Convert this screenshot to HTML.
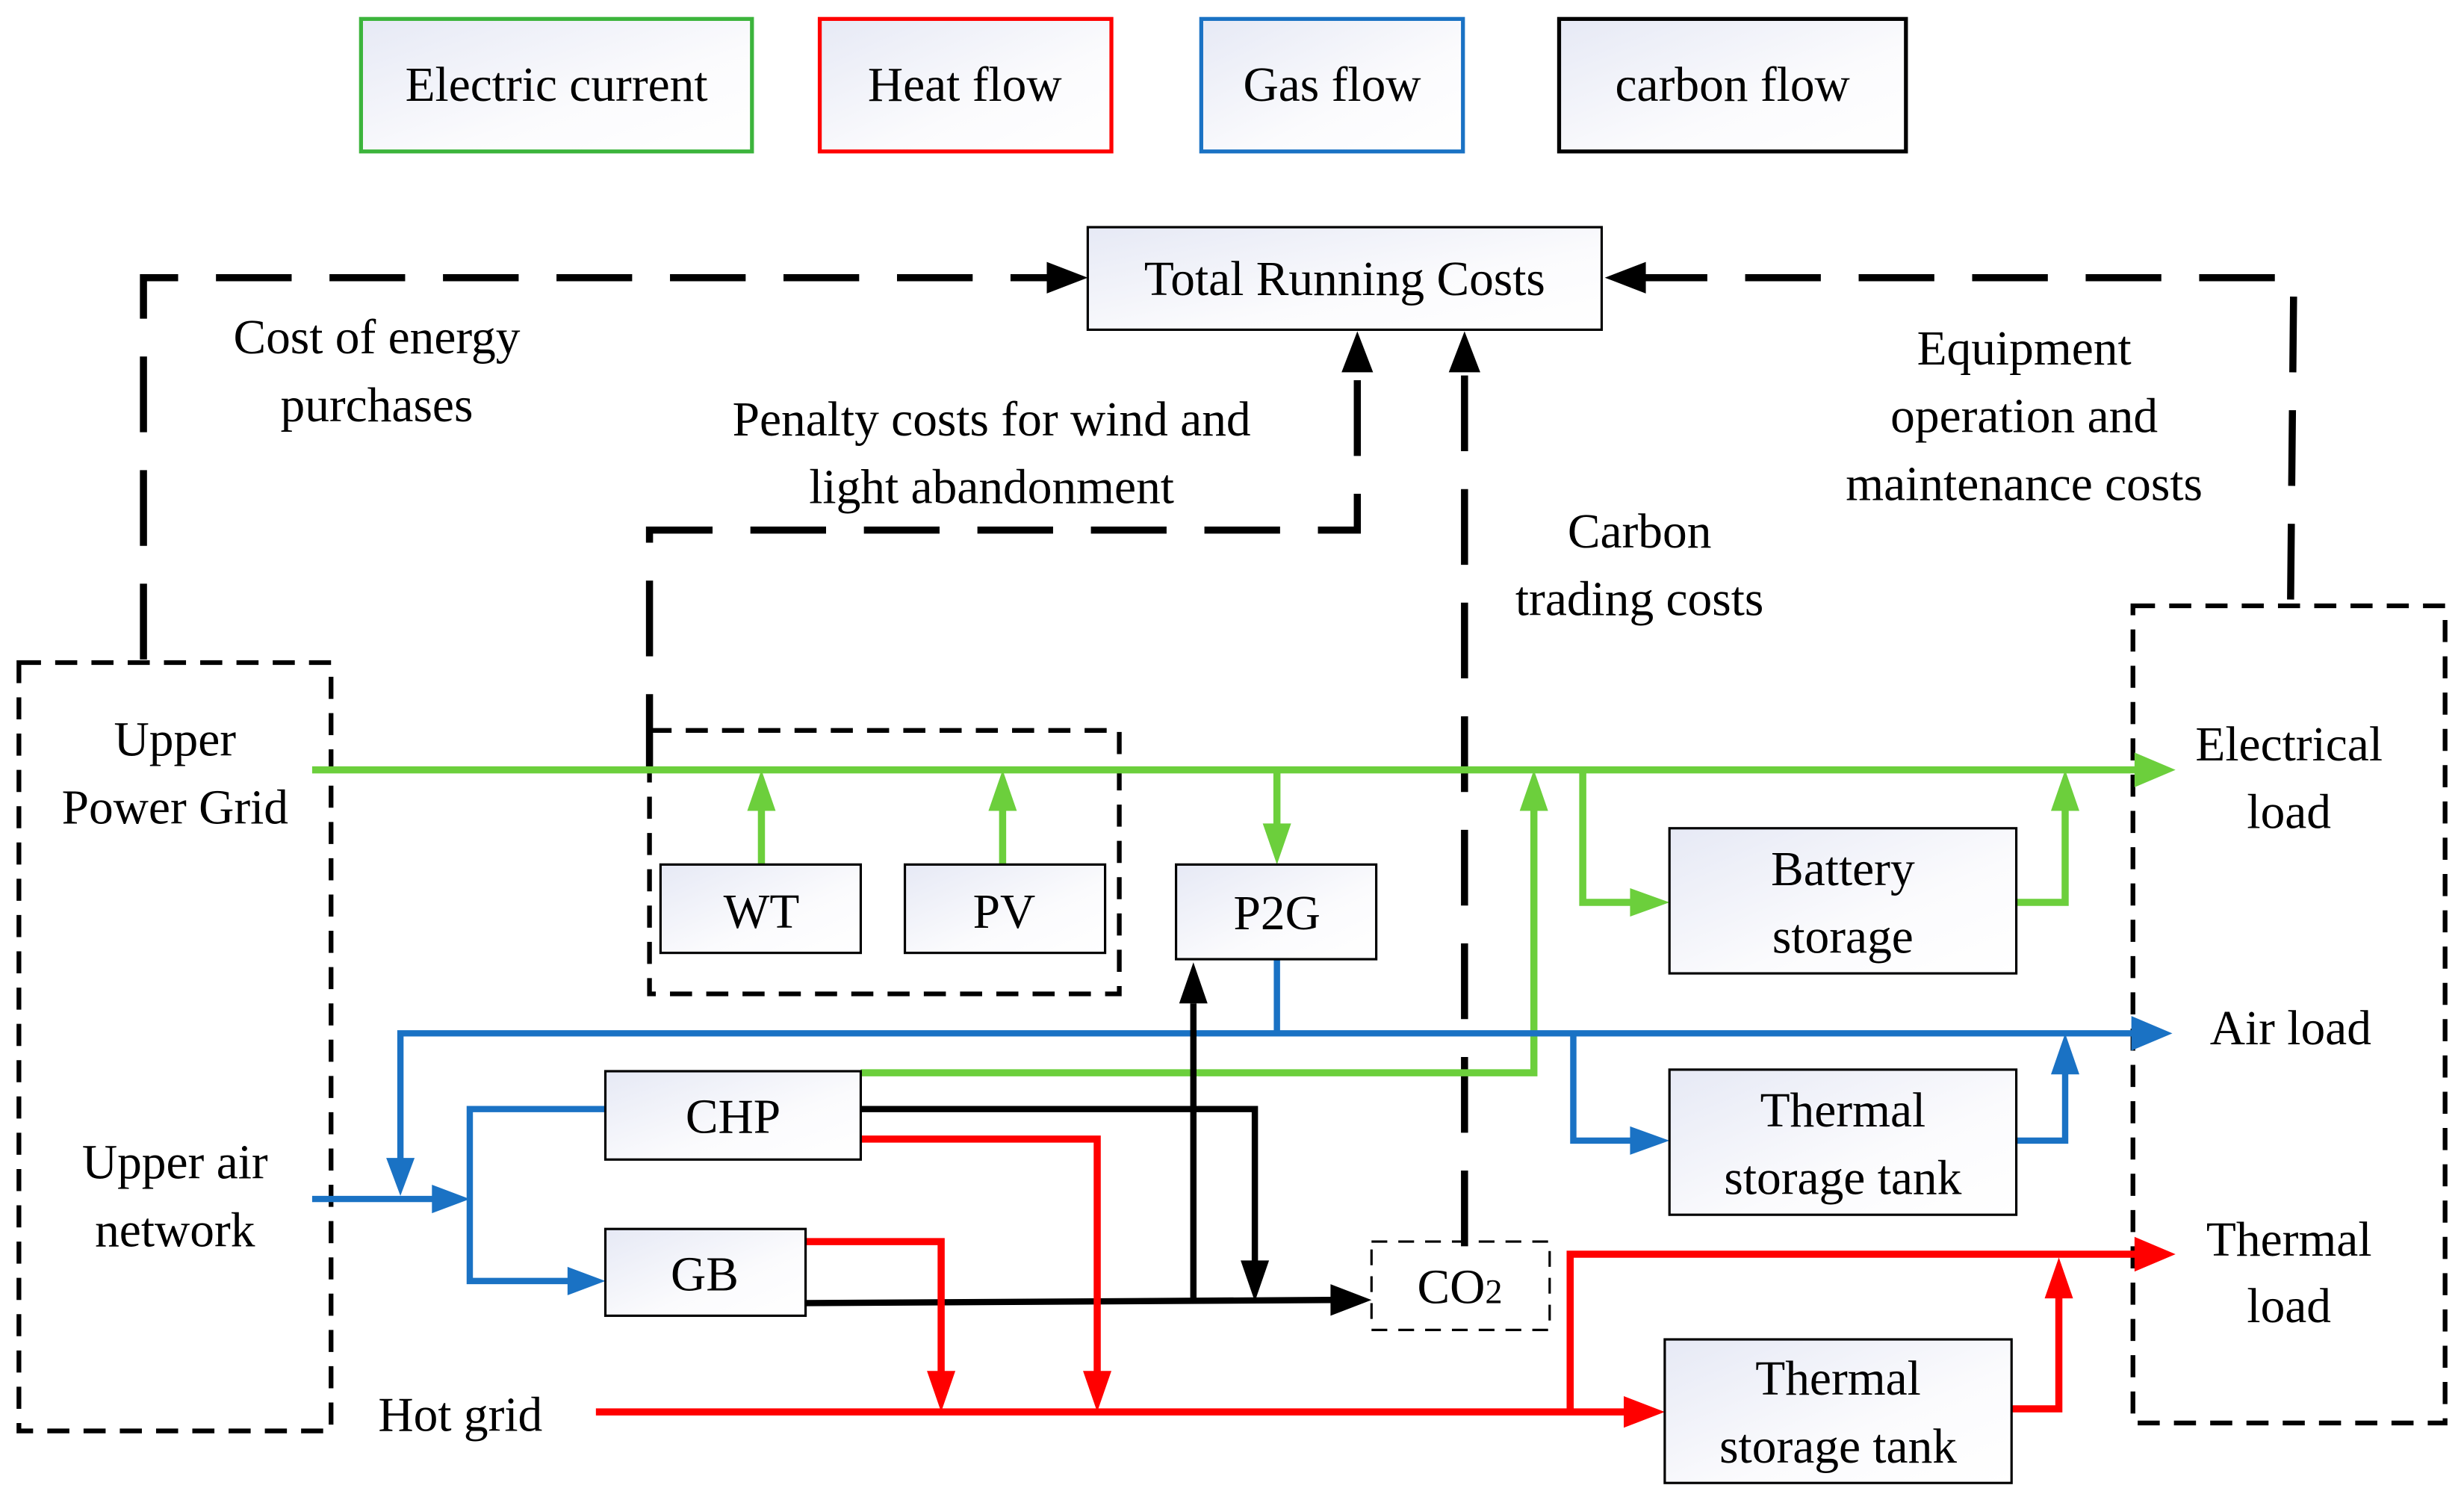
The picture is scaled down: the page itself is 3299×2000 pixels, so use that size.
<!DOCTYPE html>
<html><head><meta charset="utf-8"><style>html,body{margin:0;padding:0;background:#fff}svg{display:block}</style></head><body>
<svg width="3299" height="2000" viewBox="0 0 1563 947" preserveAspectRatio="none" xmlns="http://www.w3.org/2000/svg" font-family="Liberation Serif, serif" font-size="31" text-anchor="middle">
<defs>
<linearGradient id="g" x1="0" y1="0" x2="1" y2="1"><stop offset="0" stop-color="#e6e9f5"/><stop offset="0.6" stop-color="#fbfbfd"/><stop offset="1" stop-color="#ffffff"/></linearGradient>
</defs>
<g stroke-width="2.5">
<rect x="229" y="12" width="248" height="84" fill="url(#g)" stroke="#3cb43c"/>
<rect x="520" y="12" width="185" height="84" fill="url(#g)" stroke="#f00"/>
<rect x="762" y="12" width="166" height="84" fill="url(#g)" stroke="#1a72c4"/>
<rect x="989" y="12" width="220" height="84" fill="url(#g)" stroke="#000"/>
</g>
<text x="353" y="64">Electric current</text>
<text x="612" y="64">Heat flow</text>
<text x="845" y="64">Gas flow</text>
<text x="1099" y="64">carbon flow</text>

<g fill="none" stroke="#000" stroke-width="4.5" stroke-dasharray="48,24">
<path d="M91,418 L91,176 L666,176"/>
<path d="M1453,380 L1455,176 L1042,176"/>
<path d="M412,488 L412,336 L861,336 L861,234"/>
<path d="M929,790 L929,234"/>
</g>
<path d="M664,166L690,176L664,186z"/>
<path d="M1044,166L1018,176L1044,186z"/>
<path d="M851,236L861,210L871,236z"/>
<path d="M919,236L929,210L939,236z"/>

<rect x="690" y="144" width="326" height="65" fill="url(#g)" stroke="#000" stroke-width="1.5"/>
<text x="853" y="187">Total Running Costs</text>

<g fill="none" stroke="#000" stroke-width="3" stroke-dasharray="14,9">
<rect x="12" y="420" width="198" height="487"/>
<rect x="1353" y="384" width="198" height="518"/>
<rect x="412" y="463" width="298" height="167"/>
<rect x="870" y="787" width="113" height="56" stroke-width="1.5" stroke-dasharray="10,7"/>
</g>

<g fill="none" stroke="#6ccf3c" stroke-width="4.5">
<path d="M198,488 L1356,488"/>
<path d="M483,548 L483,510"/><path d="M636,548 L636,510"/>
<path d="M810,488 L810,524"/>
<path d="M546,680 L973,680 L973,510"/>
<path d="M1004,488 L1004,572 L1036,572"/>
<path d="M1279,572 L1310,572 L1310,510"/>
</g>
<g fill="#6ccf3c">
<path d="M1354,477L1380,488L1354,499z"/>
<path d="M474,514L483,488L492,514z"/><path d="M627,514L636,488L645,514z"/>
<path d="M801,522L810,548L819,522z"/>
<path d="M964,514L973,488L982,514z"/>
<path d="M1034,563L1059,572L1034,581z"/>
<path d="M1301,514L1310,488L1319,514z"/>
</g>
<g fill="none" stroke="#1a72c4" stroke-width="4">
<path d="M254,736 L254,655 L1354,655"/>
<path d="M810,608 L810,655"/>
<path d="M198,760 L276,760"/>
<path d="M384,703 L298,703 L298,812 L362,812"/>
<path d="M998,655 L998,723 L1036,723"/>
<path d="M1279,723 L1310,723 L1310,680"/>
</g>
<g fill="#1a72c4">
<path d="M1352,644L1378,655L1352,666z"/>
<path d="M245,734L254,758L263,734z"/>
<path d="M274,751L298,760L274,769z"/>
<path d="M360,803L384,812L360,821z"/>
<path d="M1034,714L1059,723L1034,732z"/>
<path d="M1301,681L1310,655L1319,681z"/>
</g>
<g fill="none" stroke="#000" stroke-width="4">
<path d="M546,703 L796,703 L796,800"/>
<path d="M511,826 L846,824"/>
<path d="M757,824 L757,636"/>
</g>
<g fill="#000">
<path d="M787,799L796,825L805,799z"/>
<path d="M844,814L870,824L844,834z"/>
<path d="M748,636L757,610L766,636z"/>
</g>
<g fill="none" stroke="#f00" stroke-width="4.5">
<path d="M378,895 L1032,895"/>
<path d="M546,722 L696,722 L696,870"/>
<path d="M511,787 L597,787 L597,870"/>
<path d="M996,895 L996,795 L1356,795"/>
<path d="M1276,893 L1306,893 L1306,822"/>
</g>
<g fill="#f00">
<path d="M1030,885L1056,895L1030,905z"/>
<path d="M687,869L696,895L705,869z"/>
<path d="M588,869L597,895L606,869z"/>
<path d="M1354,784L1380,795L1354,806z"/>
<path d="M1297,823L1306,797L1315,823z"/>
</g>

<g fill="url(#g)" stroke="#000" stroke-width="1.5">
<rect x="419" y="548" width="127" height="56"/>
<rect x="574" y="548" width="127" height="56"/>
<rect x="746" y="548" width="127" height="60"/>
<rect x="1059" y="525" width="220" height="92"/>
<rect x="1059" y="678" width="220" height="92"/>
<rect x="384" y="679" width="162" height="56"/>
<rect x="384" y="779" width="127" height="55"/>
<rect x="1056" y="849" width="220" height="91"/>
</g>
<text x="483" y="588">WT</text>
<text x="637" y="588">PV</text>
<text x="810" y="589">P2G</text>
<text x="1169" y="561">Battery</text>
<text x="1169" y="604">storage</text>
<text x="1169" y="714">Thermal</text>
<text x="1169" y="757">storage tank</text>
<text x="465" y="718">CHP</text>
<text x="447" y="818">GB</text>
<text x="1166" y="884">Thermal</text>
<text x="1166" y="927">storage tank</text>
<text x="926" y="826">CO<tspan font-size="22">2</tspan></text>

<text x="111" y="479">Upper</text>
<text x="111" y="522">Power Grid</text>
<text x="111" y="747">Upper air</text>
<text x="111" y="790">network</text>
<text x="292" y="907">Hot grid</text>
<text x="1452" y="482">Electrical</text>
<text x="1452" y="525">load</text>
<text x="1453" y="662">Air load</text>
<text x="1452" y="796">Thermal</text>
<text x="1452" y="838">load</text>
<text x="239" y="224">Cost of energy</text>
<text x="239" y="267">purchases</text>
<text x="629" y="276">Penalty costs for wind and</text>
<text x="629" y="319">light abandonment</text>
<text x="1040" y="347">Carbon</text>
<text x="1040" y="390">trading costs</text>
<text x="1284" y="231">Equipment</text>
<text x="1284" y="274">operation and</text>
<text x="1284" y="317">maintenance costs</text>
</svg>
</body></html>
